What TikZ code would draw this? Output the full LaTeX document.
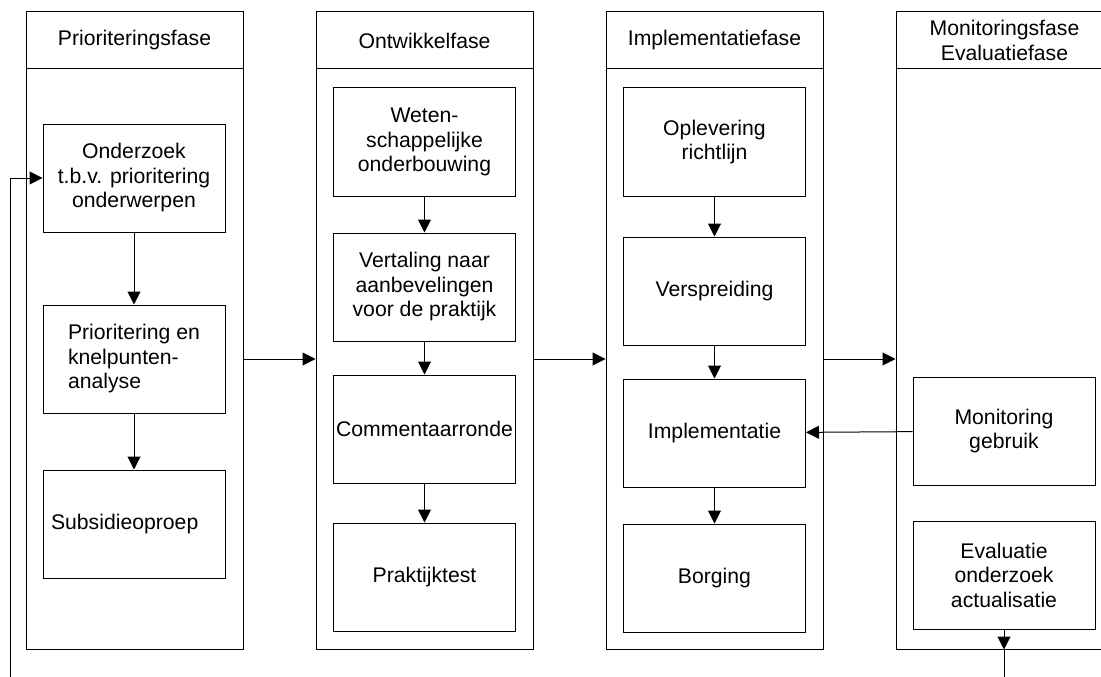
\documentclass[tikz,border=0pt]{standalone}
\usepackage{fontspec}
\setmainfont{Liberation Sans}
\usepackage{tikz}
\usetikzlibrary{positioning, arrows.meta}

\tikzset{
  phase/.style={draw, minimum width=217pt, minimum height=637pt},
  phasehead/.style={draw, anchor=north, minimum width=217pt, minimum height=57pt, align=center},
  box/.style={draw, minimum width=182pt, minimum height=108pt, inner xsep=2pt, align=center},
  arr/.style={-{Triangle[length=13pt,width=13pt]}}
}

\begin{document}
\begin{tikzpicture}[x=1pt, y=-1pt, line width=1pt, font=\fontsize{21.2}{24.5}\selectfont]
        \useasboundingbox (0,0) rectangle (1101,677);
        \clip (0,0) rectangle (1101,677);

        \node (fase1) [phase] at (134.5,330.5) {};
        \node (fase2) [phase] at (424.5,330.5) {};
        \node (fase3) [phase] at (714.5,330.5) {};
        \node (fase4) [phase] at (1004.5,330.5) {};
        \node (kop1) [phasehead] at (fase1.north) {Prioriteringsfase};
        \node (kop2) [phasehead] at (fase2.north) {Ontwikkelfase};
        \node (kop3) [phasehead] at (fase3.north) {Implementatiefase};
        \node (kop4) [phasehead] at (fase4.north) {Monitoringsfase\\Evaluatiefase};

        \node (onderzoek) [box] at (134,178) {Onderzoek\\t.b.v. prioritering\\onderwerpen};
        \node (prior) [box, align=left, below=72pt of onderzoek] {Prioritering en\\knelpunten-\\analyse};
        \node (subsidie) [box, align=left, text width=166pt, inner xsep=8pt, below=56pt of prior] {Subsidieoproep};

        \node (weten) [box] at (424.5,142) {Weten-\\schappelijke\\onderbouwing};
        \node (vertaling) [box, below=36pt of weten] {Vertaling naar\\aanbevelingen\\voor de praktijk};
        \node (commentaar) [box, below=33pt of vertaling] {Commentaarronde};
        \node (praktijk) [box, below=39pt of commentaar] {Praktijktest};

        \node (oplevering) [box] at (714.5,142) {Oplevering\\richtlijn};
        \node (verspreiding) [box, below=40pt of oplevering] {Verspreiding};
        \node (implementatie) [box, below=33pt of verspreiding] {Implementatie};
        \node (borging) [box, below=36pt of implementatie] {Borging};

        \node (monitoring) [box] at (1004,431) {Monitoring\\gebruik};
        \node (evaluatie) [box, below=35pt of monitoring] {Evaluatie\\onderzoek\\actualisatie};

        \draw[arr] (onderzoek) -- (prior);
        \draw[arr] (prior) -- (subsidie);
        \draw[arr] (weten) -- (vertaling);
        \draw[arr] (vertaling) -- (commentaar);
        \draw[arr] (commentaar) -- (praktijk);
        \draw[arr] (oplevering) -- (verspreiding);
        \draw[arr] (verspreiding) -- (implementatie);
        \draw[arr] (implementatie) -- (borging);
        \draw[arr] (monitoring) -- (implementatie);

        \draw[arr] (prior.east -| fase1.east) -- (prior.east -| fase2.west);
        \draw[arr] (prior.east -| fase2.east) -- (prior.east -| fase3.west);
        \draw[arr] (prior.east -| fase3.east) -- (prior.east -| fase4.west);

        \coordinate (lusR) at (1004,700);
        \coordinate (lusL) at (10,700);
        \draw[arr] (evaluatie.south) -- (evaluatie.south |- fase4.south);
        \draw[arr] (evaluatie.south |- fase4.south) -- (lusR) -- (lusL) |- (onderzoek.west);
    \end{tikzpicture}
\end{document}
